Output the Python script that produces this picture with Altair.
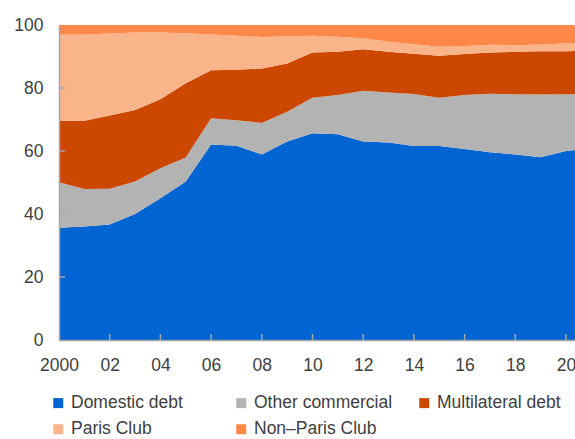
import altair as alt
import pandas as pd

years = list(range(2000, 2022))
domestic = [35.6, 36.0, 36.7, 40.0, 45.0, 50.3, 62.1, 61.7, 58.9, 63.0, 65.6, 65.3, 63.0, 62.7, 61.6, 61.6, 60.6, 59.6, 58.9, 58.0, 60.0, 61.0]
other_commercial = [14.5, 11.9, 11.3, 10.3, 9.5, 7.6, 8.3, 8.1, 10.0, 9.5, 11.3, 12.5, 16.1, 15.9, 16.5, 15.3, 17.2, 18.6, 19.1, 19.9, 18.0, 17.0]
multilateral = [19.4, 21.7, 23.3, 22.7, 21.9, 23.6, 15.2, 16.0, 17.3, 15.3, 14.4, 13.7, 13.2, 12.9, 12.8, 13.3, 13.0, 13.1, 13.5, 13.8, 13.7, 13.8]
paris_club = [27.4, 27.4, 26.0, 24.6, 21.2, 15.9, 11.4, 10.8, 10.0, 8.6, 5.3, 4.8, 3.5, 3.2, 3.0, 2.9, 2.5, 2.4, 2.1, 2.1, 2.4, 2.5]
non_paris_club = [3.1, 3.0, 2.7, 2.4, 2.4, 2.6, 3.0, 3.4, 3.8, 3.6, 3.4, 3.7, 4.2, 5.3, 6.1, 6.9, 6.7, 6.3, 6.4, 6.2, 5.9, 5.7]

series_names = ["Domestic debt", "Other commercial", "Multilateral debt", "Paris Club", "Non\u2013Paris Club"]
series_colors = ["#0064D2", "#B3B3B3", "#CC4700", "#F9B48A", "#FF8848"]
# legend is filled column by column: order so rows read as in the reference
legend_order = [0, 3, 1, 4, 2]
x_tick_values = [2000, 2002, 2004, 2006, 2008, 2010, 2012, 2014, 2016, 2018, 2020]
y_tick_values = [0, 20, 40, 60, 80, 100]

FONT = "Liberation Sans, Arial, sans-serif"
FS = 17.5
TEXT = "#404040"
AXIS = "#A6A6A6"

rows = []
for i, (name, vals) in enumerate(zip(series_names, [domestic, other_commercial, multilateral, paris_club, non_paris_club])):
    for yr, v in zip(years, vals):
        rows.append({"year": yr, "series": name, "share": v, "order": i})
df = pd.DataFrame(rows)

xticks_df = pd.DataFrame({"year": x_tick_values[1:], "share": [0] * 10, "hi": [1.9] * 10})
yticks_df = pd.DataFrame({"share": y_tick_values[1:-1], "year": [2000] * 4, "x1": [2000.24] * 4})

x_scale = alt.Scale(domain=[2000, 2020.355], nice=False, zero=False)
y_scale = alt.Scale(domain=[0, 100], nice=False)

area = alt.Chart(df).mark_area(clip=True, interpolate="linear").encode(
    x=alt.X("year:Q", scale=x_scale, title=None,
            axis=alt.Axis(values=x_tick_values,
                          labelExpr="datum.value == 2000 ? '2000' : slice(toString(datum.value), 2)",
                          ticks=False, grid=False, domainColor=AXIS, domainWidth=1.5,
                          labelFont=FONT, labelFontSize=FS, labelColor=TEXT, labelPadding=16.5,
                          zindex=1, labelFlush=False)),
    y=alt.Y("share:Q", stack="zero", scale=y_scale, title=None,
            axis=alt.Axis(values=y_tick_values, ticks=False, grid=False, domainColor=AXIS,
                          domainWidth=1.5, labelFont=FONT, labelFontSize=FS, labelColor=TEXT,
                          labelPadding=16, zindex=1)),
    color=alt.Color("series:N",
                    scale=alt.Scale(domain=[series_names[i] for i in legend_order],
                                    range=[series_colors[i] for i in legend_order]),
                    legend=alt.Legend(title=None, orient="none", legendX=-9.5, legendY=369,
                                      columns=3, gridAlign="all", columnPadding=23, rowPadding=7.5,
                                      symbolType="square", symbolSize=100, symbolStrokeWidth=0,
                                      symbolOpacity=1,
                                      labelFont=FONT, labelFontSize=FS, labelColor=TEXT,
                                      labelOffset=4, labelLimit=300)),
    order=alt.Order("order:Q", sort="ascending"),
)

xticks = alt.Chart(xticks_df).mark_rule(color=AXIS, strokeWidth=1.5).encode(
    x=alt.X("year:Q", scale=x_scale, title=None),
    y=alt.Y("share:Q", scale=y_scale, title=None),
    y2="hi:Q",
)

yticks = alt.Chart(yticks_df).mark_rule(color=AXIS, strokeWidth=1.5).encode(
    y=alt.Y("share:Q", scale=y_scale, title=None),
    x=alt.X("year:Q", scale=x_scale, title=None),
    x2="x1:Q",
)

chart = alt.layer(area, xticks, yticks).properties(
    width=516, height=315,
    autosize=alt.AutoSizeParams(type="none"),
    padding={"left": 59, "top": 25, "right": 0, "bottom": 99},
).configure_view(stroke=None)

chart.save("out.html", embed_options={"renderer": "svg", "actions": False})
